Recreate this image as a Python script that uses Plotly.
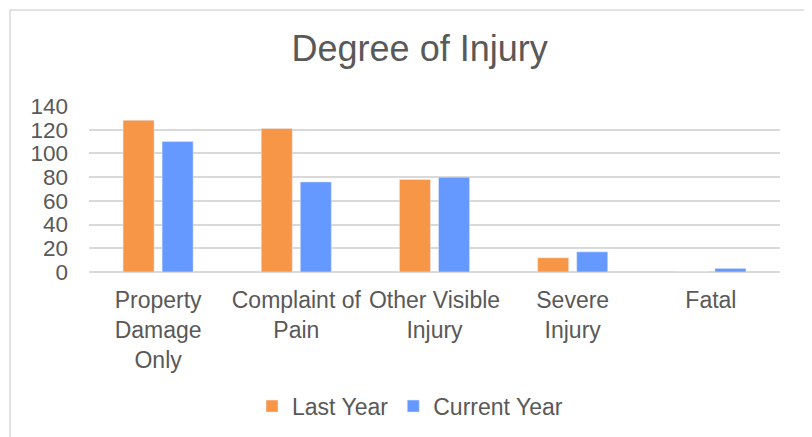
import plotly.graph_objects as go

categories = ["Property<br>Damage<br>Only", "Complaint of<br>Pain", "Other Visible<br>Injury", "Severe<br>Injury", "Fatal"]
last_year = [128, 121, 78, 12, 0]
current_year = [110, 76, 80, 17, 3]
y_ticks = [0, 20, 40, 60, 80, 100, 120, 140]

FONT = "Arial, Liberation Sans, sans-serif"
GRAY = "#595959"

W, H = 804, 429
L, T, R, B = 81, 98, 32, 165
PW, PH = W - L - R, H - T - B

fig = go.Figure()
fig.add_trace(go.Bar(x=categories, y=last_year, name="Last Year", marker=dict(color="#F79646")))
fig.add_trace(go.Bar(x=categories, y=current_year, name="Current Year", marker=dict(color="#6699FF")))

fig.update_layout(
    width=W, height=H,
    paper_bgcolor="white", plot_bgcolor="white",
    margin=dict(l=L, r=R, t=T, b=B),
    barmode="group", bargap=0.435, bargroupgap=0.205,
    font=dict(family=FONT, color=GRAY, size=23),
    title=dict(text="Degree of Injury", x=0.512, xanchor="center", y=0.906, yanchor="middle",
               font=dict(size=36, color=GRAY, family=FONT)),
    legend=dict(orientation="h", x=0.5, xanchor="center", xref="container", y=0.072, yref="container",
                yanchor="middle", font=dict(size=23, color=GRAY), itemwidth=30, traceorder="normal"),
    showlegend=True,
)
fig.update_yaxes(range=[0, 140], tickvals=y_ticks, showgrid=True, gridcolor="#D9D9D9", gridwidth=1.5,
                 zeroline=True, zerolinecolor="#D9D9D9", zerolinewidth=1.5, showline=False,
                 ticks="", tickfont=dict(size=22.5, color=GRAY), ticklabelstandoff=20)
fig.update_xaxes(showline=False, ticks="", tickfont=dict(size=23, color=GRAY), tickangle=0,
                 ticklabelstandoff=12)

fig.add_shape(type="rect", xref="paper", yref="paper",
              x0=(2 - L) / PW, x1=(799 - L) / PW, y0=(PH + T - 440) / PH, y1=(PH + T - 2) / PH,
              line=dict(color="#D9D9D9", width=1.5), fillcolor="rgba(0,0,0,0)", layer="below")

fig.write_html("out.html")
